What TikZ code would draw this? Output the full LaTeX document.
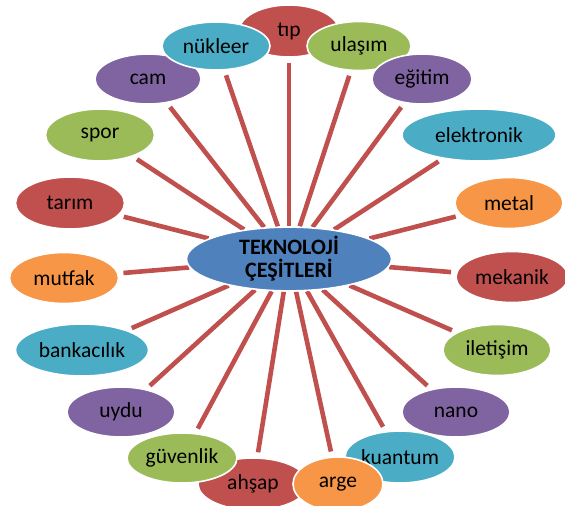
\documentclass[tikz,border=0pt]{standalone}
\usepackage{fontspec}
\setmainfont{Carlito}
\usepackage{tikz}
\usetikzlibrary{shapes.geometric, backgrounds}

\definecolor{offred}{HTML}{C0504D}
\definecolor{offgreen}{HTML}{9BBB59}
\definecolor{offpurple}{HTML}{8064A2}
\definecolor{offaqua}{HTML}{4BACC6}
\definecolor{offorange}{HTML}{F79646}
\definecolor{offblue}{HTML}{4F81BD}

\begin{document}
\begin{tikzpicture}[
  x=1pt, y=-1pt,
  blob/.style={ellipse, draw=white, line width=1.6pt, inner sep=0pt,
               minimum width=108pt, minimum height=51pt,
               font=\fontsize{21.5}{24}\selectfont},
  hub/.style={blob, minimum width=205pt, minimum height=48pt, align=center,
              font=\fontsize{22}{23}\selectfont\bfseries},
  spoke/.style={draw=offred, line width=4.6pt, shorten >=5pt}
]
  \useasboundingbox (0,0) rectangle (565,506);

  \node[hub, fill=offblue] (tek) at (289,259) {TEKNOLOJİ\\ÇEŞİTLERİ};

  \node[blob, fill=offred,    minimum width=100pt, minimum height=52pt] (tip) at (289,31) {tıp};
  \node[blob, fill=offgreen,  minimum width=104pt, minimum height=49pt] (ulasim) at (359,46) {ulaşım};
  \node[blob, fill=offpurple, minimum width=100pt, minimum height=50pt] (egitim) at (422,79) {eğitim};
  \node[blob, fill=offaqua,   minimum width=154pt, minimum height=52pt] (elektronik) at (479,135) {elektronik};
  \node[blob, fill=offorange] (metal)    at (509,203) {metal};
  \node[blob, fill=offred,    minimum width=112pt] (mekanik)  at (512,277) {mekanik};
  \node[blob, fill=offgreen]  (iletisim) at (497,350) {iletişim};
  \node[blob, fill=offpurple, minimum height=50pt] (nano) at (456,412) {nano};
  \node[blob, fill=offaqua,   minimum width=110pt, minimum height=52pt] (kuantum) at (400,457) {kuantum};
  \node[blob, fill=offred,    minimum width=110pt, minimum height=52pt] (ahsap) at (253,484) {ahşap};
  \node[blob, fill=offorange, minimum width=90pt,  minimum height=54pt] (arge) at (338,484) {arge};
  \node[blob, fill=offgreen,  minimum width=110pt, minimum height=50pt] (guvenlik) at (182,458) {güvenlik};
  \node[blob, fill=offpurple, minimum height=50pt] (uydu) at (121,412) {uydu};
  \node[blob, fill=offaqua,   minimum width=133pt, minimum height=52pt] (bankacilik) at (82,350) {bankacılık};
  \node[blob, fill=offorange, minimum width=109pt] (mutfak) at (64,278) {mutfak};
  \node[blob, fill=offred,    minimum width=109pt, minimum height=52pt] (tarim) at (70,203) {tarım};
  \node[blob, fill=offgreen,  minimum width=109pt, minimum height=52pt] (spor) at (100,135) {spor};
  \node[blob, fill=offpurple, minimum width=106pt, minimum height=50pt] (cam) at (148,79) {cam};
  \node[blob, fill=offaqua,   minimum width=108pt, minimum height=48pt] (nukleer) at (216,46) {nükleer};

  \begin{scope}[on background layer]
    \draw[spoke] (tek) -- (tip);
    \draw[spoke] (tek) -- (ulasim);
    \draw[spoke] (tek) -- (egitim);
    \draw[spoke] (tek) -- (elektronik);
    \draw[spoke] (tek) -- (metal);
    \draw[spoke] (tek) -- (mekanik);
    \draw[spoke] (tek) -- (iletisim);
    \draw[spoke] (tek) -- (nano);
    \draw[spoke] (tek) -- (kuantum);
    \draw[spoke] (tek) -- (arge);
    \draw[spoke] (tek) -- (ahsap);
    \draw[spoke] (tek) -- (guvenlik);
    \draw[spoke] (tek) -- (uydu);
    \draw[spoke] (tek) -- (bankacilik);
    \draw[spoke] (tek) -- (mutfak);
    \draw[spoke] (tek) -- (tarim);
    \draw[spoke] (tek) -- (spor);
    \draw[spoke] (tek) -- (cam);
    \draw[spoke] (tek) -- (nukleer);
  \end{scope}
\end{tikzpicture}
\end{document}
